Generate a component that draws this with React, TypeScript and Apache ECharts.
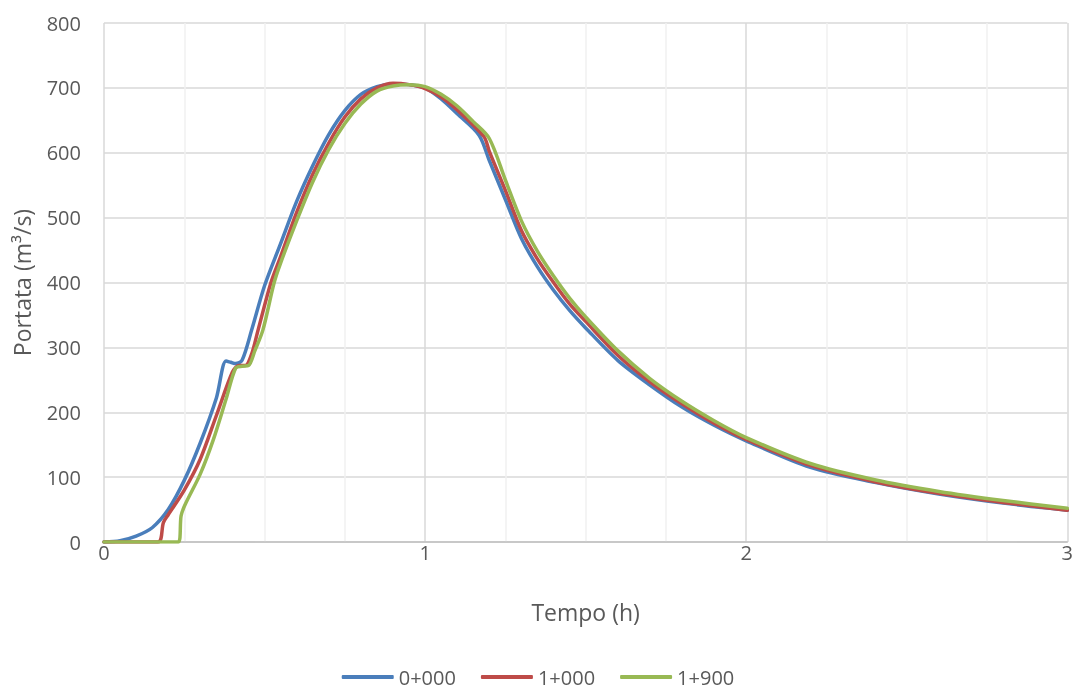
import React, { useEffect, useRef } from "react";
import * as echarts from "echarts";

const seriesNames = ["0+000", "1+000", "1+900"];

const time0 = [0, 0.05, 0.1, 0.15, 0.2, 0.25, 0.3, 0.35, 0.38, 0.395, 0.41, 0.43, 0.46, 0.5, 0.55, 0.6, 0.65, 0.7, 0.75, 0.8, 0.85, 0.9, 0.95, 1.0, 1.05, 1.1, 1.168, 1.2, 1.25, 1.3, 1.35, 1.4, 1.45, 1.5, 1.6, 1.7, 1.8, 1.9, 2.0, 2.2, 2.4, 2.6, 2.8, 3.0];
const flow0 = [0, 2, 9, 22, 50, 95, 153, 222, 279, 277, 275, 280, 327, 395, 460, 525, 580, 628, 665, 690, 702, 706, 705, 700, 683, 660, 627, 588, 528, 468, 424, 388, 357, 330, 280, 242, 208, 180, 156, 115, 92, 74, 60, 49];

const time1 = [0, 0.168, 0.185, 0.2, 0.25, 0.3, 0.35, 0.4, 0.42, 0.44, 0.46, 0.48, 0.52, 0.55, 0.6, 0.65, 0.7, 0.75, 0.8, 0.85, 0.9, 0.95, 1.0, 1.05, 1.1, 1.183, 1.2, 1.25, 1.3, 1.35, 1.4, 1.45, 1.5, 1.6, 1.7, 1.8, 1.9, 2.0, 2.2, 2.4, 2.6, 2.8, 3.0];
const flow1 = [0, 0, 30, 42, 80, 128, 195, 262, 272, 272, 290, 327, 400, 440, 508, 567, 615, 655, 683, 700, 707, 705, 699, 686, 666, 625, 602, 542, 480, 436, 400, 367, 340, 288, 247, 213, 183, 158, 118, 93, 75, 61, 49];

const time2 = [0, 0.232, 0.24, 0.252, 0.3, 0.34, 0.38, 0.41, 0.43, 0.45, 0.47, 0.495, 0.53, 0.55, 0.6, 0.65, 0.7, 0.75, 0.8, 0.85, 0.9, 0.95, 1.0, 1.05, 1.1, 1.15, 1.2, 1.25, 1.3, 1.35, 1.4, 1.45, 1.5, 1.6, 1.7, 1.8, 1.9, 2.0, 2.2, 2.4, 2.6, 2.8, 3.0];
const flow2 = [0, 0, 40, 57, 105, 157, 220, 268, 271, 272, 295, 327, 400, 430, 495, 555, 605, 645, 675, 695, 703, 705, 702, 690, 672, 648, 622, 558, 495, 448, 410, 376, 347, 295, 252, 217, 187, 161, 121, 96, 78, 64, 52];

const colors = ["#4A7EBB", "#BE4B48", "#98B954"];

const FONT = "'Open Sans', 'Liberation Sans', sans-serif";
const TEXT = "#595959";

export default function App() {
  const ref = useRef<HTMLDivElement>(null);
  useEffect(() => {
    if (!ref.current) return;
    const chart = echarts.init(ref.current, null, { renderer: "svg" });
    const times = [time0, time1, time2];
    const flows = [flow0, flow1, flow2];
    chart.setOption({
      animation: false,
      textStyle: { fontFamily: FONT, color: TEXT },
      grid: { left: 104, right: 6, top: 23, bottom: 151, containLabel: false },
      legend: {
        top: 667,
        left: "center",
        padding: 0,
        icon: "roundRect",
        itemWidth: 52,
        itemHeight: 4,
        itemGap: 25,
        textStyle: { fontFamily: FONT, fontSize: 20, lineHeight: 20, color: TEXT },
        data: seriesNames,
      },
      xAxis: {
        type: "value",
        min: 0,
        max: 3,
        interval: 1,
        name: "Tempo (h)",
        nameLocation: "middle",
        nameGap: 58,
        nameTextStyle: { fontFamily: FONT, fontSize: 23, color: TEXT },
        axisLine: { show: true, lineStyle: { color: "#BFBFBF", width: 1.5 } },
        axisTick: { show: false },
        axisLabel: { fontFamily: FONT, fontSize: 20, color: TEXT, margin: 0 },
        splitLine: { show: true, lineStyle: { color: "#D9D9D9", width: 1.5 } },
        minorTick: { show: false, splitNumber: 4 },
        minorSplitLine: { show: true, lineStyle: { color: "#F0F0F0", width: 1.5 } },
      },
      yAxis: {
        type: "value",
        min: 0,
        max: 800,
        interval: 100,
        name: "Portata (m³/s)",
        nameLocation: "middle",
        nameGap: 71,
        nameRotate: 90,
        nameTextStyle: { fontFamily: FONT, fontSize: 23, color: TEXT },
        axisLine: { show: false },
        axisTick: { show: false },
        axisLabel: { fontFamily: FONT, fontSize: 20, color: TEXT, margin: 23 },
        splitLine: { show: true, lineStyle: { color: "#D9D9D9", width: 1.5 } },
      },
      series: seriesNames.map((name, i) => ({
        name,
        type: "line",
        showSymbol: false,
        symbol: "none",
        smooth: 0.3,
        color: colors[i],
        lineStyle: { width: 3.5, color: colors[i], join: "round", cap: "round" },
        data: times[i].map((t, j) => [t, flows[i][j]]),
      })),
    });
    return () => chart.dispose();
  }, []);
  return (
    <div
      ref={ref}
      style={{ position: "fixed", left: 0, top: 0, width: 1076, height: 693 }}
    />
  );
}
